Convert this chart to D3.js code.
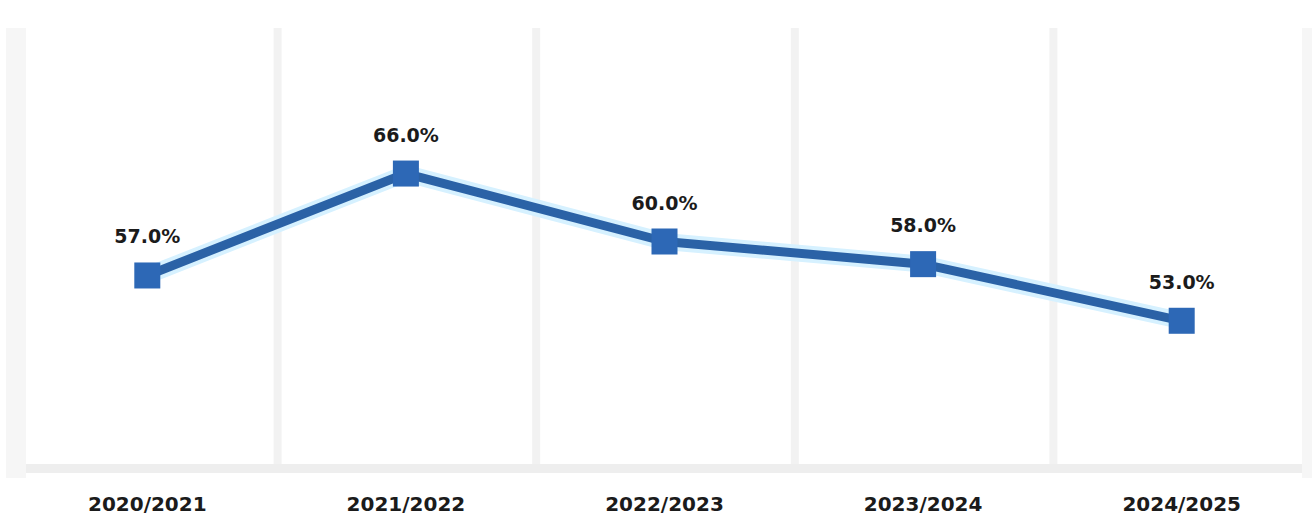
<!DOCTYPE html>
<html><head><meta charset="utf-8">
<script src="https://cdn.jsdelivr.net/npm/d3@7"></script>
<style>html,body{margin:0;padding:0;background:#fff;}svg{display:block;}</style>
</head><body>
<svg id="c" width="1312" height="518"></svg>
<script>
const categories = ["2020/2021","2021/2022","2022/2023","2023/2024","2024/2025"];
const values = [57.0, 66.0, 60.0, 58.0, 53.0];
const yDomain = [40, 80];

const svg = d3.select("#c");
const x = d3.scaleBand().domain(categories).range([18, 1311]);
const y = d3.scaleLinear().domain(yDomain).range([468, 15]);
const cx = d => x(d) + x.bandwidth()/2;

// left edge bar
svg.append("rect").attr("x",6).attr("y",28).attr("width",20).attr("height",450).attr("fill","#f6f6f6");
// right edge
svg.append("rect").attr("x",1302).attr("y",28).attr("width",10).attr("height",450).attr("fill","#f6f6f6");
// gridlines at category boundaries
svg.append("g").selectAll("rect").data(categories.slice(1)).join("rect")
  .attr("x", d => x(d) - 3).attr("y", 28).attr("width", 8).attr("height", 437)
  .attr("fill", "#f2f2f2");
// baseline band
svg.append("rect").attr("x",26).attr("y",464).attr("width",1276).attr("height",9).attr("fill","#eeeeee");

const line = d3.line().x((d,i) => cx(categories[i])).y(d => y(d));
// glow
svg.append("path").datum(values).attr("d", line).attr("fill","none")
  .attr("stroke","#d6f1ff").attr("stroke-width",17).attr("stroke-linejoin","round");
svg.append("path").datum(values).attr("d", line).attr("fill","none")
  .attr("stroke","#2b62a6").attr("stroke-width",9).attr("stroke-linejoin","round");

const s = 26;
svg.append("g").selectAll("rect").data(values).join("rect")
  .attr("x",(d,i)=>cx(categories[i]) - s/2).attr("y", d => y(d) - s/2)
  .attr("width", s).attr("height", s).attr("fill","#2d68b6");

svg.append("g").selectAll("text").data(values).join("text")
  .attr("x",(d,i)=>cx(categories[i])).attr("y", d => y(d) - 32)
  .attr("text-anchor","middle").attr("font-family","DejaVu Sans").attr("font-weight","bold")
  .attr("font-size",19).attr("fill","#1b1b1b")
  .text(d => d.toFixed(1) + "%");

// x axis labels
const ax = svg.append("g").attr("transform","translate(0,511)")
  .call(d3.axisBottom(x).tickSize(0).tickPadding(0));
ax.select(".domain").remove();
ax.selectAll("text").attr("dy",0).attr("font-family","DejaVu Sans").attr("font-weight","bold")
  .attr("font-size",20).attr("fill","#1b1b1b");
</script>
</body></html>
